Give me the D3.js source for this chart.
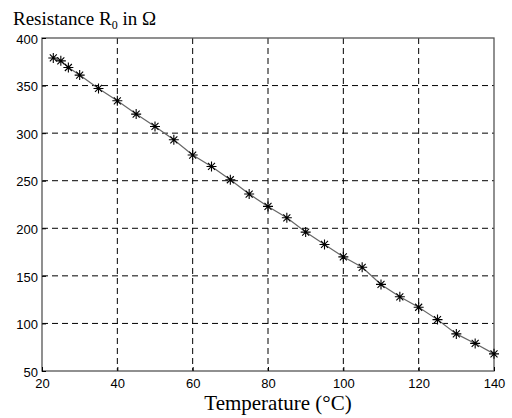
<!DOCTYPE html>
<html>
<head>
  <title>Resistance vs Temperature</title>
  <script src="https://d3js.org/d3.v7.min.js"></script>
  <style>
    body { margin: 0; background: #fff; }
  </style>
</head>
<body>
<script>
var temps = [23, 25, 27, 30, 35, 40, 45, 50, 55, 60, 65, 70, 75, 80, 85, 90, 95, 100, 105, 110, 115, 120, 125, 130, 135, 140];
var resist = [379, 376, 369, 361, 347, 334, 320, 307, 293, 277, 265, 251, 236, 223, 211, 196, 183, 170, 159, 141, 128, 117, 104, 89, 79, 68];
var xTicks = [20, 40, 60, 80, 100, 120, 140];
var yTicks = [50, 100, 150, 200, 250, 300, 350, 400];

var width = 512, height = 418;
var plotL = 42, plotR = 494, plotT = 38, plotB = 371;

var svg = d3.select("body").append("svg")
  .attr("width", width).attr("height", height);

var x = d3.scaleLinear().domain([20, 140]).range([plotL, plotR]);
var y = d3.scaleLinear().domain([50, 400]).range([plotB, plotT]);

// dashed grid
svg.append("g").selectAll("line").data(xTicks.slice(1, -1)).enter()
  .append("line")
  .attr("x1", function(d){ return x(d); }).attr("x2", function(d){ return x(d); })
  .attr("y1", plotT).attr("y2", plotB)
  .style("stroke", "#000").style("stroke-width", 1).style("stroke-dasharray", "6,4");
svg.append("g").selectAll("line").data(yTicks.slice(1, -1)).enter()
  .append("line")
  .attr("y1", function(d){ return y(d); }).attr("y2", function(d){ return y(d); })
  .attr("x1", plotL).attr("x2", plotR)
  .style("stroke", "#000").style("stroke-width", 1).style("stroke-dasharray", "6,4");

// box
svg.append("rect")
  .attr("x", plotL).attr("y", plotT).attr("width", plotR - plotL).attr("height", plotB - plotT)
  .style("fill", "none").style("stroke", "#555").style("stroke-width", 1.3);

// axes (ticks pointing inside)
var xAxis = svg.append("g").attr("transform", "translate(0," + plotB + ")")
  .call(d3.axisBottom(x).tickValues(xTicks).tickSize(-4).tickPadding(8));
var yAxis = svg.append("g").attr("transform", "translate(" + plotL + ",0)")
  .call(d3.axisLeft(y).tickValues(yTicks).tickSize(-4).tickPadding(4));
[xAxis, yAxis].forEach(function(a){
  a.select(".domain").remove();
  a.selectAll(".tick line").style("stroke", "#000");
  a.selectAll("text").style("font-family", "'Liberation Sans', Arial, sans-serif")
    .style("font-size", "13px").style("fill", "#000");
});
yAxis.selectAll("text").attr("dy", "0.4em");

// line
var pts = temps.map(function(t, i){ return [t, resist[i]]; });
svg.append("path").datum(pts)
  .attr("d", d3.line().x(function(d){ return x(d[0]); }).y(function(d){ return y(d[1]); }))
  .style("fill", "none").style("stroke", "#666").style("stroke-width", 1.2);

// star markers
var star = svg.append("g").selectAll("g").data(pts).enter()
  .append("g")
  .attr("transform", function(d){ return "translate(" + x(d[0]) + "," + y(d[1]) + ")"; });
star.append("path")
  .attr("d", "M-5,0H5M0,-5V5M-3.5,-3.5L3.5,3.5M-3.5,3.5L3.5,-3.5")
  .style("stroke", "#000").style("stroke-width", 1.1);

// titles
var title = svg.append("text").attr("x", 13).attr("y", 25)
  .style("font-family", "'Liberation Serif', 'Times New Roman', serif").style("font-size", "19px");
title.append("tspan").text("Resistance R");
title.append("tspan").attr("dy", 4).style("font-size", "12px").text("0");
title.append("tspan").attr("dy", -4).text(" in \u03A9");

svg.append("text").attr("x", 278).attr("y", 410)
  .attr("text-anchor", "middle")
  .style("font-family", "'Liberation Serif', 'Times New Roman', serif").style("font-size", "21px")
  .text("Temperature (\u00B0C)");
</script>
</body>
</html>
